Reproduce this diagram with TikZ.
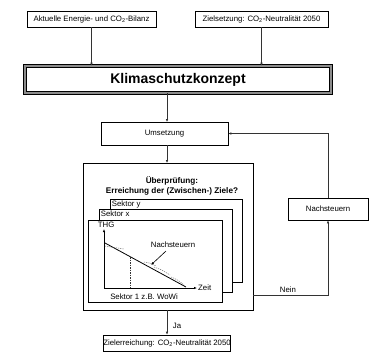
\documentclass[tikz,border=0pt]{standalone}
\usepackage{fontspec}
\setmainfont{Liberation Sans}
\usetikzlibrary{arrows.meta}
\tikzset{
  box/.style={draw=black, line width=0.6pt, fill=white, inner sep=0pt, font=\fontsize{7.8}{9}\selectfont},
  conn/.style={draw=black!80, line width=0.6pt, -{Latex[length=3pt,width=2.6pt]}},
  lbl/.style={font=\fontsize{7.8}{9}\selectfont, inner sep=1pt},
}
\newcommand{\cotwo}{CO\textsubscript{2}}
\begin{document}
\begin{tikzpicture}[x=1pt,y=-1pt]
\useasboundingbox (0,0) rectangle (372,357);
% top boxes
\node[box, minimum width=129pt, minimum height=16pt] (bilanz) at (91.5,19) {Aktuelle Energie- und \cotwo-Bilanz};
\node[box, minimum width=133pt, minimum height=16pt] (ziel) at (261.5,19) {Zielsetzung: \cotwo-Neutralität 2050};
% Klimaschutzkonzept
\node[draw=black, line width=0.6pt, double=black!45, double distance=2.8pt, fill=white,
      minimum width=306pt, minimum height=27pt, inner sep=0pt,
      font=\fontsize{14}{16}\selectfont\bfseries] (klima) at (178,79.5) {Klimaschutzkonzept};
% Umsetzung
\node[box, minimum width=127pt, minimum height=23pt] (ums) at (164.5,133.5) {Umsetzung};
% big box
\node[box, minimum width=170pt, minimum height=147pt] (big) at (168,236.5) {};
\node[lbl, font=\fontsize{8.2}{10.5}\selectfont\bfseries, align=center] (uber) at (172,186) {Überprüfung:\\Erreichung der (Zwischen-) Ziele?};
% sector boxes
\node[box, minimum width=132pt, minimum height=83pt] (sy) at (176,240.5) {};
\node[lbl, anchor=north west] (sytext) at ([xshift=1pt,yshift=-0.5pt]sy.north west) {Sektor y};
\node[box, minimum width=133pt, minimum height=83pt] (sx) at (165.5,250.5) {};
\node[lbl, anchor=north west] (sxtext) at ([xshift=1pt,yshift=-0.5pt]sx.north west) {Sektor x};
\node[box, minimum width=134pt, minimum height=82pt] (s1) at (155,261) {};
\node[lbl, anchor=north west] (thg) at ([xshift=9pt,yshift=-1pt]s1.north west) {THG};
% chart
\coordinate (o) at (104,288);
\coordinate (ytop) at (104,229);
\coordinate (xend) at (197,288);
\draw[line width=0.6pt, -{Latex[length=3pt,width=2.4pt]}] (o) -- (ytop);
\draw[line width=0.6pt, -{Latex[length=3pt,width=2.4pt]}] (o) -- (xend);
\node[lbl, anchor=west] (zeit) at (xend) {Zeit};
\coordinate (la) at (105,243);
\coordinate (lb) at (186,287);
\draw[line width=0.8pt] (la) -- (lb);
\draw[black!55, dashed, dash pattern=on 1.2pt off 1pt, line width=0.5pt]
  (105,246) .. controls (114,247) .. (124,249);
\draw[black!55, dashed, dash pattern=on 1.2pt off 1pt, line width=0.5pt]
  (144,262) .. controls (150,263) .. (156,266);
\draw[black!55, dashed, dash pattern=on 1.2pt off 1pt, line width=0.5pt]
  (154,267) .. controls (162,270) .. (170,275);
\draw[black!55, dashed, dash pattern=on 1.2pt off 1pt, line width=0.5pt]
  (171,277) .. controls (178,280) .. (184,285);
\draw[black!80, dashed, dash pattern=on 1.5pt off 1pt, line width=0.6pt] (130,257) -- (130,288);
\node[lbl] (nstxt) at (173,245) {Nachsteuern};
\draw[line width=0.6pt, -{Latex[length=3pt,width=2.4pt]}] (166,251) -- (151,265);
\node[lbl] (s1lbl) at (144,297) {Sektor 1 z.B. WoWi};
% Nachsteuern box
\node[box, minimum width=80pt, minimum height=22pt] (nach) at (328,209) {Nachsteuern};
% bottom box
\node[box, minimum width=120pt, minimum height=16pt] (zerr) at (167,343) {Zielerreichung: \cotwo-Neutralität 2050};
% connectors
\draw[conn] (bilanz.south) -- (bilanz.south |- klima.north);
\draw[conn] (ziel.south) -- (ziel.south |- klima.north);
\draw[conn] (klima.south -| 167,0) -- (167,122);
\draw[conn] (167,145) -- (167,163);
\draw[conn] (nach.north) -- (nach.north |- ums.east) -- (ums.east);
\draw[conn] (253,295) -- (328,295) -- (nach.south);
\node[lbl] (nein) at (288,290) {Nein};
\draw[conn] (167,310) -- (zerr.north);
\node[lbl] (ja) at (177,326) {Ja};
\end{tikzpicture}
\end{document}
